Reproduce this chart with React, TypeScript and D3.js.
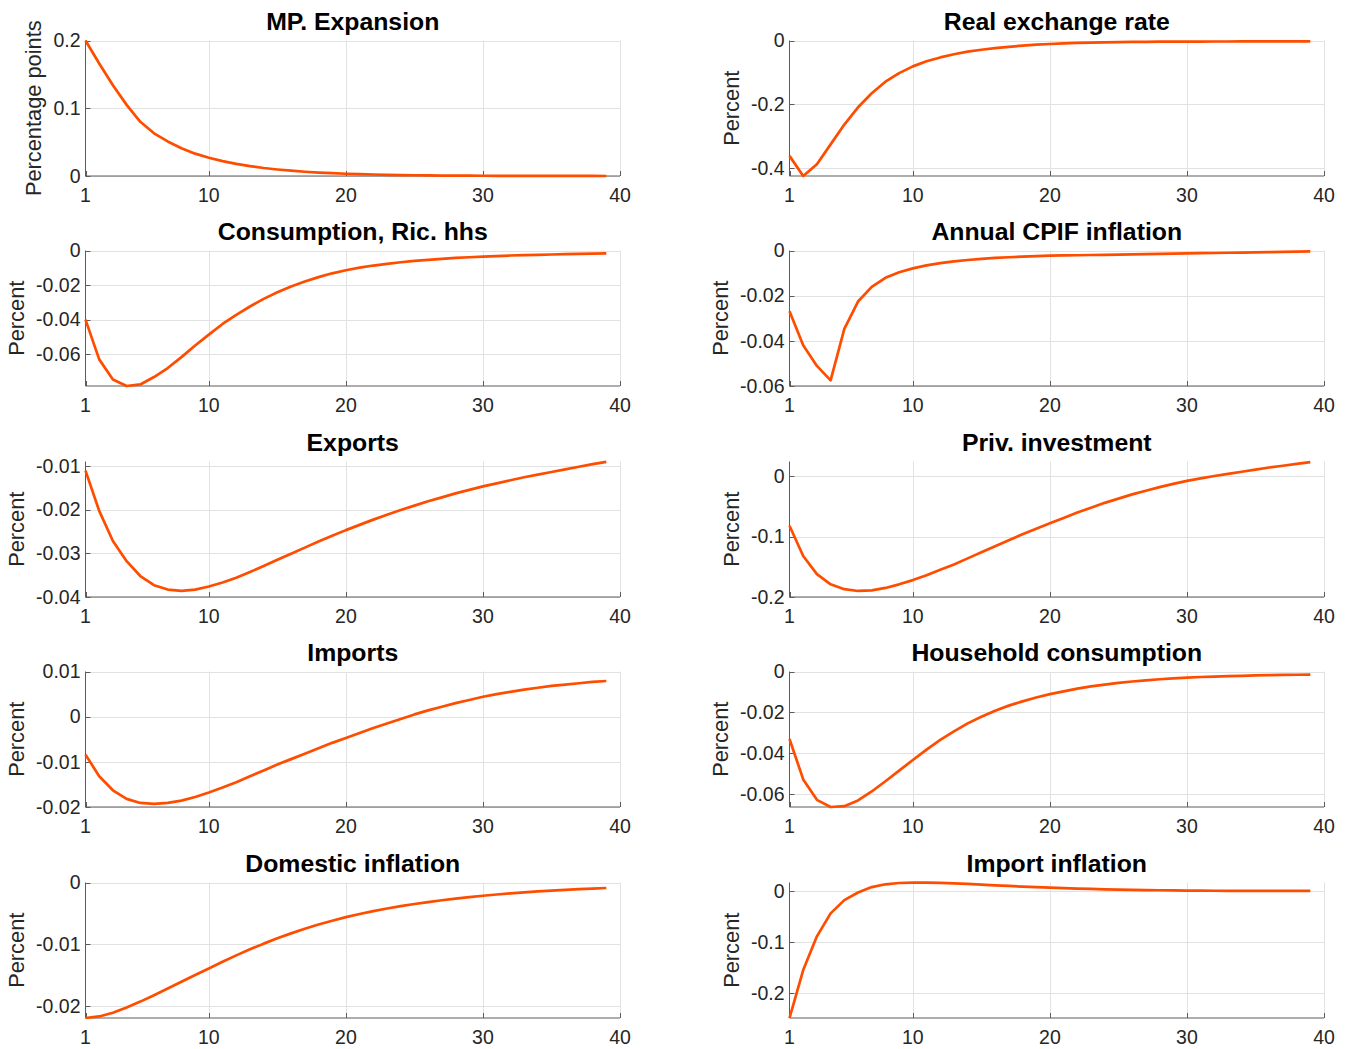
import React, { useEffect, useRef } from "react";
import * as d3 from "d3";

// ---------- DATA ----------
const periods = [
  1, 2, 3, 4, 5, 6, 7, 8, 9, 10, 11, 12, 13, 14, 15, 16, 17, 18, 19, 20,
  21, 22, 23, 24, 25, 26, 27, 28, 29, 30, 31, 32, 33, 34, 35, 36, 37, 38, 39,
];
const xTickValues = [1, 10, 20, 30, 40];

const mpExpansion = [
  0.2, 0.166, 0.134, 0.105, 0.08, 0.063, 0.051, 0.041, 0.033, 0.027, 0.022,
  0.018, 0.0145, 0.0118, 0.0096, 0.0078, 0.0063, 0.0051, 0.0041, 0.0033,
  0.0027, 0.0022, 0.0018, 0.0014, 0.0011, 0.0009, 0.0007, 0.0006, 0.0005,
  0.0004, 0.0003, 0.0003, 0.0002, 0.0002, 0.0001, 0.0001, 0.0001, 0.0001, 0.0,
];
const realExchangeRate = [
  -0.361, -0.424, -0.387, -0.325, -0.263, -0.209, -0.165, -0.129, -0.102,
  -0.081, -0.065, -0.053, -0.043, -0.035, -0.029, -0.024, -0.02, -0.016,
  -0.013, -0.011, -0.009, -0.0077, -0.0066, -0.0057, -0.005, -0.0045, -0.0041,
  -0.0038, -0.0036, -0.0034, -0.0033, -0.0032, -0.0031, -0.003, -0.003, -0.003,
  -0.003, -0.003, -0.003,
];
const consumptionRic = [
  -0.04, -0.063, -0.0746, -0.0784, -0.0775, -0.0732, -0.068, -0.0617, -0.055,
  -0.0487, -0.0425, -0.0372, -0.0324, -0.028, -0.0242, -0.0208, -0.0179,
  -0.0154, -0.0132, -0.0114, -0.0099, -0.0087, -0.0077, -0.0068, -0.006,
  -0.0054, -0.0048, -0.0043, -0.0039, -0.0035, -0.0032, -0.0029, -0.0027,
  -0.0025, -0.0023, -0.0021, -0.0019, -0.0018, -0.0017,
];
const cpifInflation = [
  -0.0269, -0.042, -0.0511, -0.0575, -0.0347, -0.0226, -0.0161, -0.0121,
  -0.0096, -0.0079, -0.0066, -0.0056, -0.0048, -0.0042, -0.0037, -0.0033,
  -0.003, -0.0027, -0.0025, -0.0023, -0.0022, -0.0021, -0.002, -0.0019,
  -0.0018, -0.0017, -0.0016, -0.0015, -0.0014, -0.0013, -0.0012, -0.0011,
  -0.001, -0.0009, -0.0008, -0.0007, -0.0006, -0.0005, -0.0004,
];
const exportsIrf = [
  -0.0111, -0.0203, -0.0272, -0.0318, -0.0352, -0.0373, -0.0383, -0.0386,
  -0.0383, -0.0376, -0.0367, -0.0356, -0.0343, -0.0329, -0.0315, -0.0301,
  -0.0287, -0.0273, -0.026, -0.0247, -0.0235, -0.0223, -0.0212, -0.0201,
  -0.0191, -0.0181, -0.0172, -0.0163, -0.0155, -0.0147, -0.014, -0.0133,
  -0.0126, -0.012, -0.0114, -0.0108, -0.0102, -0.0096, -0.0091,
];
const privInvestment = [
  -0.082, -0.132, -0.162, -0.179, -0.187, -0.19, -0.189, -0.185, -0.179,
  -0.172, -0.164, -0.155, -0.146, -0.136, -0.126, -0.116, -0.106, -0.096,
  -0.087, -0.078, -0.069, -0.06, -0.052, -0.044, -0.037, -0.03, -0.024,
  -0.018, -0.0125, -0.0075, -0.0035, 0.0005, 0.004, 0.0075, 0.011, 0.0145,
  0.0175, 0.0205, 0.0235,
];
const importsIrf = [
  -0.0084, -0.0132, -0.0163, -0.0182, -0.0191, -0.0193, -0.0191, -0.0186,
  -0.0178, -0.0168, -0.0157, -0.0145, -0.0132, -0.0119, -0.0106, -0.0094,
  -0.0082, -0.007, -0.0058, -0.0047, -0.0036, -0.0025, -0.0015, -0.0005,
  0.0005, 0.0014, 0.0022, 0.003, 0.0037, 0.0044, 0.005, 0.0055, 0.006,
  0.0064, 0.0068, 0.0071, 0.0074, 0.0077, 0.0079,
];
const householdConsumption = [
  -0.033, -0.0528, -0.0628, -0.0663, -0.0659, -0.0631, -0.0587, -0.0537,
  -0.0485, -0.0433, -0.0382, -0.0335, -0.0293, -0.0254, -0.0221, -0.0192,
  -0.0167, -0.0146, -0.0127, -0.0111, -0.0097, -0.0084, -0.0073, -0.0064,
  -0.0056, -0.0049, -0.0043, -0.0038, -0.0034, -0.003, -0.0027, -0.0025,
  -0.0023, -0.0021, -0.0019, -0.0018, -0.0017, -0.0016, -0.0015,
];
const domesticInflation = [
  -0.0219, -0.02165, -0.02105, -0.0202, -0.01925, -0.01822, -0.01714,
  -0.01604, -0.01496, -0.0139, -0.01282, -0.01178, -0.0108, -0.00988,
  -0.00902, -0.00822, -0.00748, -0.0068, -0.00617, -0.00559, -0.00509,
  -0.00463, -0.00421, -0.00383, -0.00348, -0.00316, -0.00287, -0.0026,
  -0.00236, -0.00214, -0.00194, -0.00176, -0.0016, -0.00145, -0.00131,
  -0.00119, -0.00108, -0.00098, -0.00089,
];
const importInflation = [
  -0.249, -0.155, -0.089, -0.044, -0.018, -0.003, 0.0075, 0.013, 0.0155,
  0.0163, 0.0163, 0.0158, 0.0148, 0.0137, 0.0124, 0.011, 0.0097, 0.0085,
  0.0074, 0.0064, 0.0055, 0.0046, 0.0039, 0.0032, 0.0026, 0.0021, 0.0017,
  0.0013, 0.001, 0.0007, 0.0005, 0.0003, 0.0002, 0.0001, 0, 0, 0, 0, 0,
];

const titles = [
  "MP. Expansion",
  "Real exchange rate",
  "Consumption, Ric. hhs",
  "Annual CPIF inflation",
  "Exports",
  "Priv. investment",
  "Imports",
  "Household consumption",
  "Domestic inflation",
  "Import inflation",
];
const yLabels = [
  "Percentage points",
  "Percent",
  "Percent",
  "Percent",
  "Percent",
  "Percent",
  "Percent",
  "Percent",
  "Percent",
  "Percent",
];
const seriesList = [
  mpExpansion,
  realExchangeRate,
  consumptionRic,
  cpifInflation,
  exportsIrf,
  privInvestment,
  importsIrf,
  householdConsumption,
  domesticInflation,
  importInflation,
];
const yDomains: [number, number][] = [
  [0, 0.2],
  [-0.424, 0],
  [-0.0784, 0],
  [-0.06, 0],
  [-0.04, -0.009],
  [-0.2, 0.0245],
  [-0.02, 0.01],
  [-0.0663, 0],
  [-0.0219, 0],
  [-0.249, 0.0165],
];
const yTickValues = [
  [0, 0.1, 0.2],
  [-0.4, -0.2, 0],
  [-0.06, -0.04, -0.02, 0],
  [-0.06, -0.04, -0.02, 0],
  [-0.04, -0.03, -0.02, -0.01],
  [-0.2, -0.1, 0],
  [-0.02, -0.01, 0, 0.01],
  [-0.06, -0.04, -0.02, 0],
  [-0.02, -0.01, 0],
  [-0.2, -0.1, 0],
];

// ---------- LAYOUT ----------
const W = 1345;
const H = 1049;
const colLeft = [85.5, 789.5];
const plotW = 534.5;
const rowTop0 = 39.5;
const rowStep = 210.6;
const plotH = 135.5;
const FONT = "'Liberation Sans', Arial, Helvetica, sans-serif";
const LINE_COLOR = "#ff4d00";
const AXIS_COLOR = "#5c5c5c";
const GRID_COLOR = "#e2e2e2";
const TEXT_COLOR = "#262626";
const TICK_FS = 19.5;
const LABEL_FS = 21.8;
const TITLE_FS = 24.8;

function fmt(v: number) {
  if (Math.abs(v) < 1e-12) return "0";
  return String(+v.toFixed(4));
}

export default function App() {
  const ref = useRef<SVGSVGElement | null>(null);

  useEffect(() => {
    document.body.style.margin = "0";
    const svg = d3.select(ref.current);
    svg.selectAll("*").remove();
    svg.append("rect").attr("width", W).attr("height", H).attr("fill", "#fff");

    seriesList.forEach((series, i) => {
      const col = i % 2;
      const row = Math.floor(i / 2);
      const left = colLeft[col];
      const top = Math.round(rowTop0 + rowStep * row) + 0.5;
      const bottom = top + plotH;
      const x = d3.scaleLinear().domain([1, 40]).range([left, left + plotW]);
      const y = d3.scaleLinear().domain(yDomains[i]).range([bottom, top]);
      const g = svg.append("g");

      // grid
      g.selectAll("line.vg")
        .data(xTickValues.filter((t) => t !== 1))
        .join("line")
        .attr("x1", (d) => Math.round(x(d)) + 0.5)
        .attr("x2", (d) => Math.round(x(d)) + 0.5)
        .attr("y1", top)
        .attr("y2", bottom)
        .attr("stroke", GRID_COLOR)
        .attr("stroke-width", 1);
      g.selectAll("line.hg")
        .data(yTickValues[i])
        .join("line")
        .attr("x1", left)
        .attr("x2", left + plotW)
        .attr("y1", (d) => Math.round(y(d)) + 0.5)
        .attr("y2", (d) => Math.round(y(d)) + 0.5)
        .attr("stroke", GRID_COLOR)
        .attr("stroke-width", 1);

      // axes lines
      g.append("line")
        .attr("x1", left)
        .attr("x2", left)
        .attr("y1", top)
        .attr("y2", bottom)
        .attr("stroke", AXIS_COLOR);
      g.append("line")
        .attr("x1", left)
        .attr("x2", left + plotW)
        .attr("y1", bottom)
        .attr("y2", bottom)
        .attr("stroke", AXIS_COLOR);

      // ticks (inward)
      g.selectAll("line.xt")
        .data(xTickValues)
        .join("line")
        .attr("x1", (d) => Math.round(x(d)) + 0.5)
        .attr("x2", (d) => Math.round(x(d)) + 0.5)
        .attr("y1", bottom)
        .attr("y2", bottom - 5)
        .attr("stroke", AXIS_COLOR);
      g.selectAll("line.yt")
        .data(yTickValues[i])
        .join("line")
        .attr("x1", left)
        .attr("x2", left + 5)
        .attr("y1", (d) => Math.round(y(d)) + 0.5)
        .attr("y2", (d) => Math.round(y(d)) + 0.5)
        .attr("stroke", AXIS_COLOR);

      // data line
      const line = d3
        .line<number>()
        .x((_, k) => x(periods[k]))
        .y((d) => y(d));
      g.append("path")
        .attr("d", line(series) as string)
        .attr("fill", "none")
        .attr("stroke", LINE_COLOR)
        .attr("stroke-width", 2.7)
        .attr("stroke-linejoin", "round");

      // x tick labels
      g.selectAll("text.xl")
        .data(xTickValues)
        .join("text")
        .attr("x", (d) => x(d))
        .attr("y", bottom + 26)
        .attr("text-anchor", "middle")
        .attr("font-family", FONT)
        .attr("font-size", TICK_FS)
        .attr("fill", TEXT_COLOR)
        .text((d) => String(d));

      // y tick labels
      const yl = g
        .selectAll("text.yl")
        .data(yTickValues[i])
        .join("text")
        .attr("x", left - 5)
        .attr("y", (d) => y(d))
        .attr("dy", "0.35em")
        .attr("text-anchor", "end")
        .attr("font-family", FONT)
        .attr("font-size", TICK_FS)
        .attr("fill", TEXT_COLOR)
        .text((d) => fmt(d));

      let minX = left - 5;
      yl.each(function () {
        const bb = (this as SVGTextElement).getBBox();
        minX = Math.min(minX, bb.x);
      });

      // y label
      const cy = (top + bottom) / 2;
      g.append("text")
        .attr("transform", `translate(${minX - 12},${cy}) rotate(-90)`)
        .attr("text-anchor", "middle")
        .attr("font-family", FONT)
        .attr("font-size", LABEL_FS)
        .attr("fill", TEXT_COLOR)
        .text(yLabels[i]);

      // title
      g.append("text")
        .attr("x", left + plotW / 2)
        .attr("y", top - 11)
        .attr("text-anchor", "middle")
        .attr("font-family", FONT)
        .attr("font-size", TITLE_FS)
        .attr("font-weight", "bold")
        .attr("fill", "#000")
        .text(titles[i]);
    });
  }, []);

  return (
    <svg
      ref={ref}
      width={W}
      height={H}
      style={{ display: "block", position: "absolute", left: 0, top: 0 }}
    />
  );
}
